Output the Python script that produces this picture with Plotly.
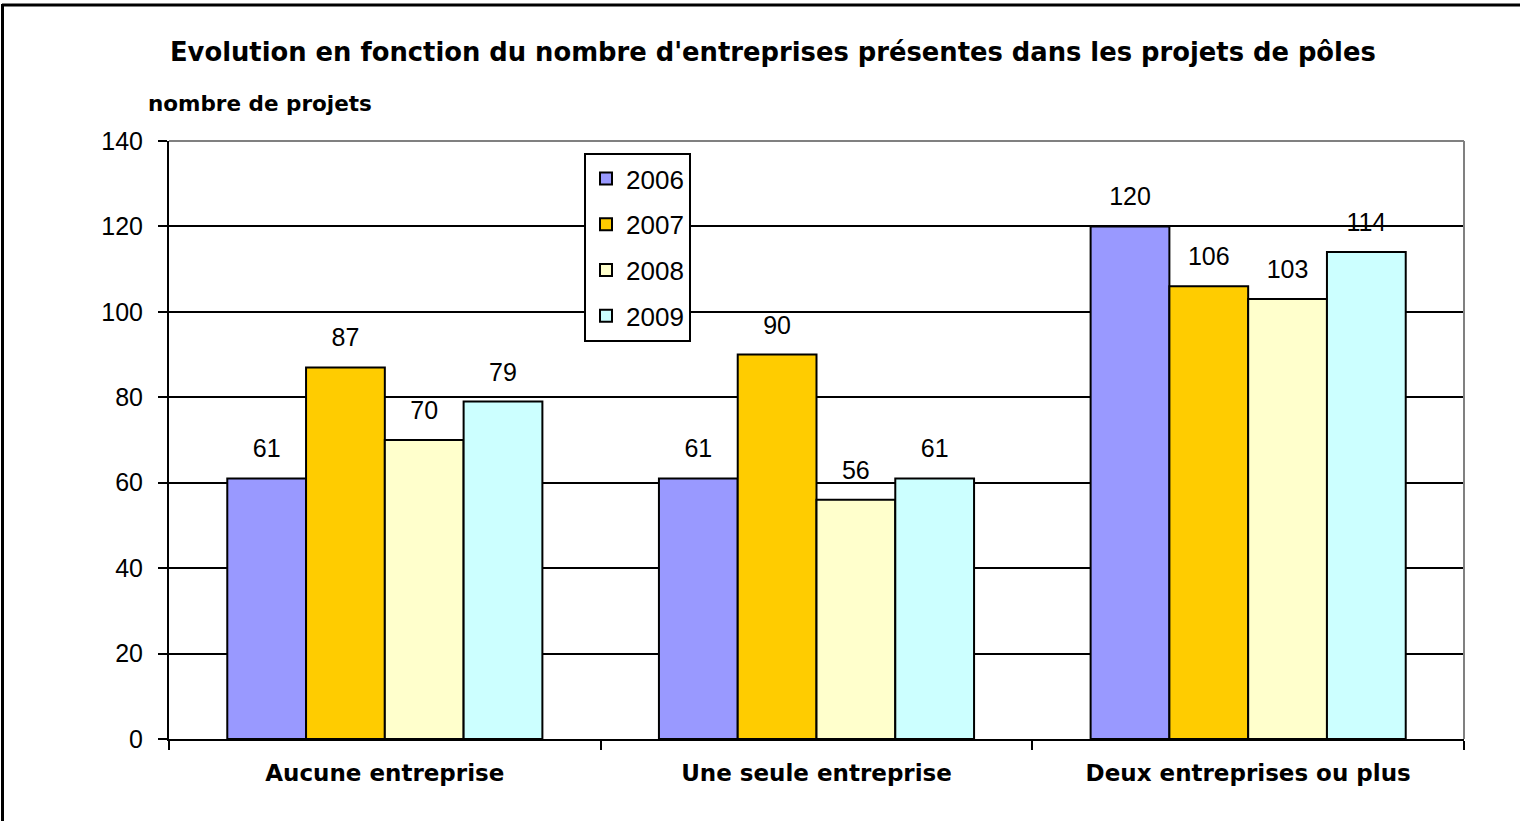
import plotly.graph_objects as go

categories = ["Aucune entreprise", "Une seule entreprise", "Deux entreprises ou plus"]
years = ["2006", "2007", "2008", "2009"]
values_2006 = [61, 61, 120]
values_2007 = [87, 90, 106]
values_2008 = [70, 56, 103]
values_2009 = [79, 61, 114]
colors = ["#9999FF", "#FFCC00", "#FFFFCC", "#CCFFFF"]

font = "Liberation Sans, Arial, sans-serif"
bold_font = "DejaVu Sans, Verdana, sans-serif"

W, H = 1526, 821
L, R, T, B = 169, 62, 141, 82
pw, ph = W - L - R, H - T - B


def px_x(x):
    return (x - L) / pw


def px_y(y):
    return (H - B - y) / ph


series = [values_2006, values_2007, values_2008, values_2009]

fig = go.Figure()
for year, vals, col in zip(years, series, colors):
    fig.add_trace(go.Bar(
        x=categories, y=vals, name=year, legendgroup=year,
        marker=dict(color=col, line=dict(color="black", width=2)),
        hoverinfo="skip",
    ))

# value labels, grouped the same way as the bars
for year, vals in zip(years, series):
    fig.add_trace(go.Scatter(
        x=categories, y=vals, mode="text+markers", text=[str(v) for v in vals],
        textposition="top center", showlegend=False, hoverinfo="skip",
        marker=dict(size=22, opacity=0),
        textfont=dict(size=25, color="black", family=font),
        cliponaxis=False,
    ))

fig.update_layout(
    width=W, height=H,
    margin=dict(l=L, r=R, t=T, b=B),
    paper_bgcolor="white", plot_bgcolor="white",
    barmode="group", bargap=0.27, bargroupgap=0,
    scattermode="group", scattergap=0.27,
    font=dict(family=font, color="black"),
    showlegend=True,
    legend=dict(
        x=px_x(584), y=px_y(153), xanchor="left", yanchor="top",
        bordercolor="black", borderwidth=2, bgcolor="white",
        font=dict(size=26, family=font), tracegroupgap=9,
    ),
    xaxis=dict(
        showline=True, linecolor="black", linewidth=2,
        ticks="outside", tickson="boundaries", ticklen=9, tickcolor="black", tickwidth=2,
        tickfont=dict(size=23, family=bold_font), showgrid=False,
        tickprefix="<b>", ticksuffix="</b>", ticklabelstandoff=12,
    ),
    yaxis=dict(
        range=[0, 140], dtick=20, showline=True, linecolor="black", linewidth=2,
        ticks="outside", ticklen=9, tickcolor="black", tickwidth=2,
        tickfont=dict(size=25, family=font), ticklabelstandoff=10,
        showgrid=True, gridcolor="black", gridwidth=2, zeroline=False,
    ),
    annotations=[
        dict(text="<b>Evolution en fonction du nombre d'entreprises présentes dans les projets de pôles</b>",
             x=px_x(773), y=px_y(52), xref="paper", yref="paper", showarrow=False,
             xanchor="center", yanchor="middle", font=dict(size=25.8, family=bold_font)),
        dict(text="<b>nombre de projets</b>", xref="paper", yref="paper",
             x=px_x(146), y=px_y(103), xanchor="left", yanchor="middle", showarrow=False,
             font=dict(size=21.5, family=bold_font)),
    ],
)

# gray plot border on top and right, outer black frame
fig.add_shape(type="line", xref="paper", yref="paper", x0=0, x1=1, y0=1, y1=1,
              line=dict(color="#808080", width=2))
fig.add_shape(type="line", xref="paper", yref="paper", x0=1, x1=1, y0=0, y1=1,
              line=dict(color="#808080", width=2))
fig.add_shape(type="line", xref="paper", yref="paper",
              x0=px_x(2), x1=px_x(1520), y0=px_y(5), y1=px_y(5),
              line=dict(color="black", width=3))
fig.add_shape(type="line", xref="paper", yref="paper",
              x0=px_x(2.5), x1=px_x(2.5), y0=px_y(4), y1=px_y(830),
              line=dict(color="black", width=3))

fig.write_html("out.html", config={"displayModeBar": False},
               post_script="document.body.style.margin='0';")
